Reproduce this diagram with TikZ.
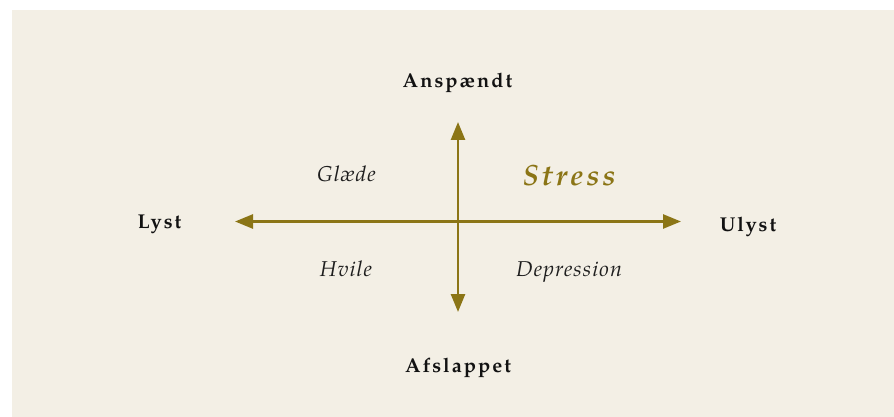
\documentclass[tikz,border=0pt]{standalone}
\usepackage{fontspec}
\setmainfont{TeX Gyre Pagella}
\usetikzlibrary{arrows.meta}
\definecolor{bg}{HTML}{F3EFE5}
\definecolor{olive}{HTML}{8B7516}
\definecolor{ink}{HTML}{121212}
\definecolor{soft}{HTML}{1E1E1E}
\begin{document}
\begin{tikzpicture}[x=1pt,y=-1pt,
  axis/.style={draw=olive,line width=2.6pt,{Triangle[length=18pt,width=14pt]}-{Triangle[length=18pt,width=14pt]}},
  pole/.style={anchor=base,inner sep=0pt,text=ink,font=\fontsize{20}{24}\selectfont\bfseries\addfontfeatures{LetterSpace=10}},
  quad/.style={anchor=base,inner sep=0pt,text=soft,font=\fontsize{21.5}{25}\selectfont\itshape\addfontfeatures{LetterSpace=5}},
  hot/.style={anchor=base,inner sep=0pt,text=olive,font=\fontsize{29.3}{34}\selectfont\bfseries\itshape\addfontfeatures{LetterSpace=10}}]
\useasboundingbox (0,0) rectangle (894,417);
\fill[bg] (11.5,10) rectangle (894,417);
\coordinate (top) at (458,122);
\coordinate (bottom) at (458,312);
\coordinate (left) at (235,221.5);
\coordinate (right) at (681,221.5);
\draw[axis] (top) -- (bottom);
\draw[axis] (left) -- (right);
\node[pole] (ansp) at (457.5,87.5) {Anspændt};
\node[pole] (afsl) at (458,372) {Afslappet};
\node[pole] (lyst) at (159.5,228) {Lyst};
\node[pole] (ulyst) at (748,231.5) {Ulyst};
\node[quad] (glaede) at (346.5,181.5) {Glæde};
\node[quad] (hvile) at (346,276) {Hvile};
\node[quad] (depr) at (569,276) {Depression};
\node[hot] (stress) at (569,185) {Stress};
\end{tikzpicture}
\end{document}
